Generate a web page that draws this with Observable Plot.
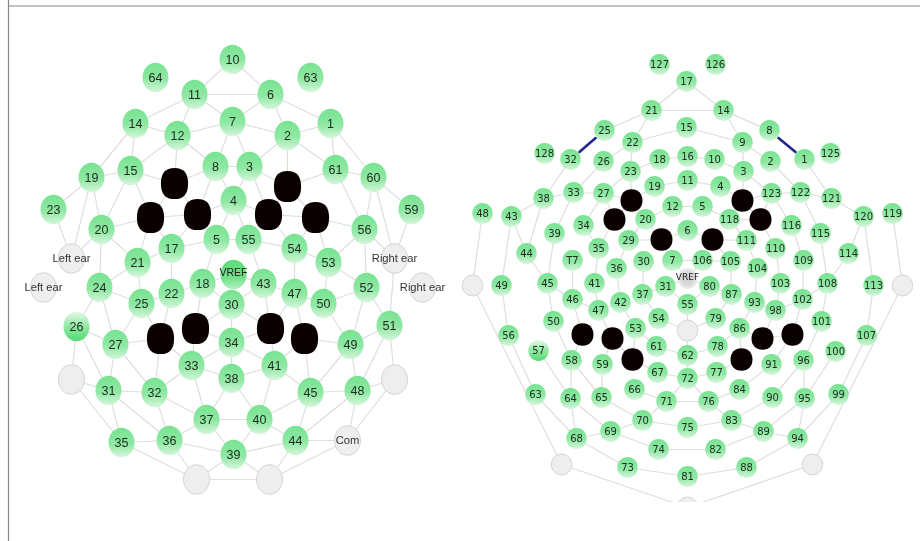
<!DOCTYPE html>
<html><head><meta charset="utf-8">
<script src="https://cdn.jsdelivr.net/npm/d3@7"></script>
<script src="https://cdn.jsdelivr.net/npm/@observablehq/plot@0.6"></script>
<style>html,body{margin:0;padding:0;background:#fff}svg{display:block;filter:blur(.35px)}</style>
</head><body><div id="chart"></div>
<script>
// Sensor positions: [label, x, y]
const leftGreen = [["10",232,59],["64",155,77],["63",310,77],["11",194,94],["6",270,94],["14",135,123],["12",177,135],["7",232,121],["2",287,135],["1",330,123],["19",91,177],["15",130,170],["8",215,166],["3",249,166],["61",335,169],["60",373,177],["23",53,209],["59",411,209],["20",101,229],["4",233,200],["56",364,229],["5",216,239],["55",248,239],["17",171,248],["54",294,248],["21",137,262],["53",328,262],["24",99,287],["18",202,283],["43",263,283],["22",171,293],["47",294,293],["25",141,303],["30",231,304],["50",323,303],["52",366,287],["51",389,325],["27",115,344],["34",231,342],["49",350,344],["33",191,365],["41",274,365],["38",231,378],["31",108,390],["32",154,392],["45",310,392],["48",357,390],["37",206,419],["40",259,419],["35",121,442],["36",169,440],["44",295,440],["39",233,454]];
const leftFlipped = [["26",76,326]];
const leftRef = [["VREF",233,274]];
const leftGray = [["Left ear",71,258],["Right ear",394,258],["Left ear ",43,287],["Right ear ",422,287],["Com",347,440],["gL",71,379],["gR",394,379],["gA",196,479],["gB",269,479]];
const leftBlack = [["a",174,183],["b",287,186],["c",150,217],["d",197,214],["e",268,214],["f",315,217],["g",160,338],["h",195,328],["i",270,328],["j",304,338]];
const leftEdges = "10-11 10-6 11-6 11-14 11-12 11-7 6-7 6-2 6-1 14-12 14-15 14-19 12-7 12-15 12-8 12-a 7-2 7-8 7-3 2-1 2-3 2-61 2-b 1-61 1-60 19-15 19-23 19-20 19-Left ear 15-a 15-20 15-c 8-3 8-a 8-4 8-d 3-4 3-b 3-e 61-60 61-b 61-56 60-59 60-56 60-Right ear 23-Left ear 59-Right ear 20-c 20-21 20-Left ear 20-24 a-c a-d c-d c-17 c-21 d-17 d-4 4-5 4-55 4-e b-e b-f e-f e-54 f-54 f-53 f-56 56-53 56-Right ear 56-52 5-17 5-55 5-18 55-54 55-43 17-21 17-22 54-53 54-47 21-24 21-25 53-50 53-52 24-25 24-26 24-27 25-22 25-27 25-g 22-18 22-g 18-VREF 18-h VREF-43 43-30 43-47 43-i 18-30 47-50 47-j 47-i 50-52 50-49 52-49 52-51 26-27 26-31 26-gL 26-Left ear Left ear-gL Right ear-gR 51-Right ear 30-34 30-h 30-i 34-33 34-38 34-41 34-h 34-i 27-g 27-32 27-31 g-32 g-33 h-33 i-41 j-41 j-45 j-49 49-51 49-48 49-45 51-48 51-gR 33-32 33-38 33-37 38-41 38-37 38-40 41-45 41-40 gL-31 gL-35 gR-48 gR-Com 31-32 31-35 31-36 32-36 32-37 45-48 45-40 45-44 48-44 48-Com 37-40 37-36 37-39 40-39 40-44 35-36 35-gA 36-gA 36-39 39-gA 39-gB 39-44 44-gB 44-Com Com-gB gA-gB".split(/ (?=[^ ]*-)/);

const rightGreen = [["127",659,64],["126",715,64],["17",686,81],["21",651,110],["14",723,110],["25",604,130],["8",769,130],["15",686,127],["22",632,142],["9",742,142],["128",544,153],["32",570,159],["26",603,161],["18",659,159],["16",687,156],["10",714,159],["2",770,161],["1",804,159],["125",830,153],["23",630,171],["3",743,171],["19",654,186],["11",687,180],["4",720,186],["38",543,198],["33",573,192],["27",603,193],["123",771,193],["122",800,192],["121",831,198],["48",482,213],["43",511,216],["120",863,216],["119",892,213],["12",672,206],["5",702,206],["20",645,219],["118",729,219],["34",583,225],["116",791,225],["39",554,233],["115",820,233],["29",628,240],["6",687,230],["111",746,240],["35",598,248],["110",775,248],["44",526,253],["114",848,253],["T7",572,260],["30",643,261],["7",672,260],["106",702,260],["105",730,261],["109",803,260],["36",616,268],["104",757,268],["49",501,285],["45",547,283],["41",594,283],["31",665,286],["80",709,286],["37",642,294],["87",731,294],["42",620,302],["93",754,302],["46",572,299],["102",802,299],["47",598,310],["98",775,310],["55",687,304],["103",780,283],["108",827,283],["113",873,285],["50",553,321],["101",821,321],["54",658,318],["79",715,318],["53",635,328],["86",739,328],["56",508,335],["107",866,335],["100",835,351],["61",656,346],["78",717,346],["62",687,355],["58",571,360],["96",803,360],["59",602,364],["91",771,364],["67",657,372],["77",716,372],["72",687,378],["66",634,389],["84",739,389],["63",535,394],["99",838,394],["64",570,398],["95",804,398],["65",601,397],["90",772,397],["71",666,401],["76",708,401],["70",642,420],["83",731,420],["75",687,427],["69",610,431],["89",763,431],["68",576,438],["94",797,438],["74",658,449],["82",715,449],["73",627,467],["88",746,467],["81",687,476]];
const rightFlipped = [["57",538,350]];
const rightRef = [["VREF",687,278]];
const rightGray = [["gL",472,285],["gR",902,285],["gC",687,330],["gA",561,464],["gB",812,464],["gD",687,507]];
const rightBlack = [["a",631,200],["b",614,219],["c",661,239],["d",712,239],["e",742,200],["f",760,219],["g",582,334],["h",612,338],["i",632,359],["j",741,359],["k",762,338],["l",792,334]];
const rightEdges = "17-21 17-14 21-14 21-25 21-22 14-8 14-9 22-15 22-26 22-23 9-15 9-2 9-3 32-38 1-121 26-33 2-122 23-18 23-27 23-a 18-16 16-10 10-3 3-e 3-123 19-11 11-4 19-a 4-e 38-33 38-43 38-44 33-27 33-39 27-b 27-34 27-a 123-e 123-122 123-116 123-f 122-121 122-115 121-120 120-114 120-113 43-44 43-49 44-45 12-5 12-20 5-118 118-111 118-f 111-104 116-109 115-108 109-102 114-108 113-107 39-45 34-35 T7-46 35-41 36-42 30-37 7-VREF 106-VREF 106-7 106-105 105-87 104-93 110-103 f-110 b-35 a-20 20-29 29-36 c-29 c-7 c-20 d-105 d-6 c-6 d-111 e-f a-b 48-gL 119-gR 49-56 45-46 45-50 41-47 46-47 46-g 47-h 47-42 42-53 37-54 37-31 31-55 31-VREF 80-55 80-VREF 87-79 80-87 93-86 98-93 98-102 102-108 103-98 102-l 101-96 108-101 50-58 54-gC 79-gC 55-gC gC-62 53-61 61-62 62-78 78-86 62-72 72-67 72-77 67-i 77-j 72-71 72-76 71-76 71-66 76-84 84-91 91-l 71-70 76-83 70-65 83-90 65-59 90-96 59-h 58-g 58-64 96-95 95-94 64-68 64-69 58-65 63-68 99-94 57-64 100-95 56-63 107-99 gL-gA gR-gB 68-73 94-88 69-74 89-82 74-82 70-75 75-83 69-70 83-89 89-94 95-89 68-69 73-81 81-88 gA-gD gB-gD 53-i 86-j 98-k 86-k i-h k-l".split(" ");
const rightBlue = ["25-32","8-1"];

const frameLeft = [8], frameTop = [5.5], clipBand = [{x1:9,x2:920,y1:502,y2:541}];

const toRows = a => a.map(([label,x,y]) => ({label:label.trim(),id:label,x,y}));
function segments(edges, nodes){
  const at = new Map(nodes.map(n => [n.id,n]));
  return edges.map(e => {
    const i = e.indexOf("-");
    const p = at.get(e.slice(0,i)), q = at.get(e.slice(i+1));
    return p && q ? {x1:p.x,y1:p.y,x2:q.x,y2:q.y} : null;
  }).filter(Boolean);
}
const shape = (ax,ay,k) => ({draw(c,size){
  const r = Math.sqrt(size/Math.PI), a = r*ax, b = r*ay;
  c.moveTo(a,0);
  c.bezierCurveTo(a,b*k,a*k,b,0,b);
  c.bezierCurveTo(-a*k,b,-a,b*k,-a,0);
  c.bezierCurveTo(-a,-b*k,-a*k,-b,0,-b);
  c.bezierCurveTo(a*k,-b,a,-b*k,a,0);
  c.closePath();
}});
const ovalL = shape(0.93,1.05,0.56), blobL = shape(0.93,1.07,0.68);
const ovalR = shape(1,1.02,0.56), blobR = shape(1,1.03,0.6);

function defs(){
  const s = d3.create("svg:g");
  const d = s.append("defs");
  const grad = (id,stops) => {
    const g = d.append("linearGradient").attr("id",id).attr("x1",0).attr("y1",0).attr("x2",0).attr("y2",1);
    stops.forEach(([o,c]) => g.append("stop").attr("offset",o).attr("stop-color",c));
  };
  grad("eegGreen",[[0,"#78e391"],[0.55,"#8fe8a3"],[1,"#d6f6dc"]]);
  grad("eegFlip",[[0,"#e4f8e7"],[0.5,"#90e8a3"],[1,"#55da74"]]);
  grad("eegRefL",[[0,"#5fdc7c"],[0.6,"#6fe088"],[1,"#b4f0c2"]]);
  const r = d.append("radialGradient").attr("id","eegRefR");
  [[0,"#cfcfcf"],[0.6,"#d8d8d8"],[1,"#efefef"]].forEach(([o,c]) => r.append("stop").attr("offset",o).attr("stop-color",c));
  return s.node();
}

const L = {g:toRows(leftGreen),f:toRows(leftFlipped),r:toRows(leftRef),y:toRows(leftGray),b:toRows(leftBlack)};
const R = {g:toRows(rightGreen),f:toRows(rightFlipped),r:toRows(rightRef),y:toRows(rightGray),b:toRows(rightBlack)};
const panel = (P,o) => {
  const all = [...P.g,...P.f,...P.r,...P.y,...P.b];
  const base = {x:"x",y:"y",symbol:o.oval,r:o.r};
  return [
    Plot.link(segments(o.edges,all),{x1:"x1",y1:"y1",x2:"x2",y2:"y2",stroke:"#dedede",strokeWidth:1.2}),
    ...(o.blue ? [Plot.arrow(segments(o.blue,all),{x1:"x1",y1:"y1",x2:"x2",y2:"y2",stroke:"#25258c",strokeWidth:2.6,headLength:0,insetStart:o.r+1.5,insetEnd:o.r+1.5})] : []),
    Plot.dot(P.y,{...base,fill:"#eeeeee",stroke:"#d4d4d4",strokeWidth:1}),
    Plot.dot(P.g,{...base,fill:"url(#eegGreen)",stroke:"none"}),
    Plot.dot(P.f,{...base,fill:"url(#eegFlip)",stroke:"none"}),
    Plot.dot(P.r,{...base,fill:o.refFill,stroke:"none"}),
    Plot.dot(P.b,{x:"x",y:"y",symbol:o.blob,r:o.black,fill:"#0a0000",stroke:"none"}),
    Plot.text([...P.g,...P.f],{x:"x",y:"y",text:"label",fontSize:o.fs,fill:"#1d2b20",fontFamily:o.font}),
    Plot.text(P.r,{x:"x",y:"y",dy:o.refDy,text:"label",fontSize:o.fsRef,fill:"#222",fontFamily:o.font}),
    Plot.text(P.y.filter(d => !/^g[A-Z]$/.test(d.id)),{x:"x",y:"y",text:"label",fontSize:o.fsGray,fill:"#333",fontFamily:o.font})
  ];
};

const chart = Plot.plot({
  width:920,height:541,margin:0,
  style:{background:"#fff"},
  x:{domain:[0,920],axis:null},
  y:{domain:[541,0],axis:null},
  marks:[
    defs,
    ...panel(L,{edges:leftEdges,oval:ovalL,blob:blobL,r:14,black:14.6,fs:12.5,fsRef:10.5,fsGray:11.2,refDy:-2,refFill:"url(#eegRefL)",font:"Liberation Sans"}),
    ...panel(R,{edges:rightEdges,blue:rightBlue,oval:ovalR,blob:blobR,r:10.2,black:11,fs:10,fsRef:9,fsGray:10,refDy:-1,refFill:"url(#eegRefR)",font:"DejaVu Sans"}),
    Plot.rect(clipBand,{x1:"x1",x2:"x2",y1:"y1",y2:"y2",fill:"#fff"}),
    Plot.ruleX(frameLeft,{stroke:"#858585",strokeWidth:1.2}),
    Plot.ruleY(frameTop,{x1:8,x2:920,stroke:"#858585",strokeWidth:1.2})
  ]
});
document.getElementById("chart").append(chart);
</script>
</body></html>
